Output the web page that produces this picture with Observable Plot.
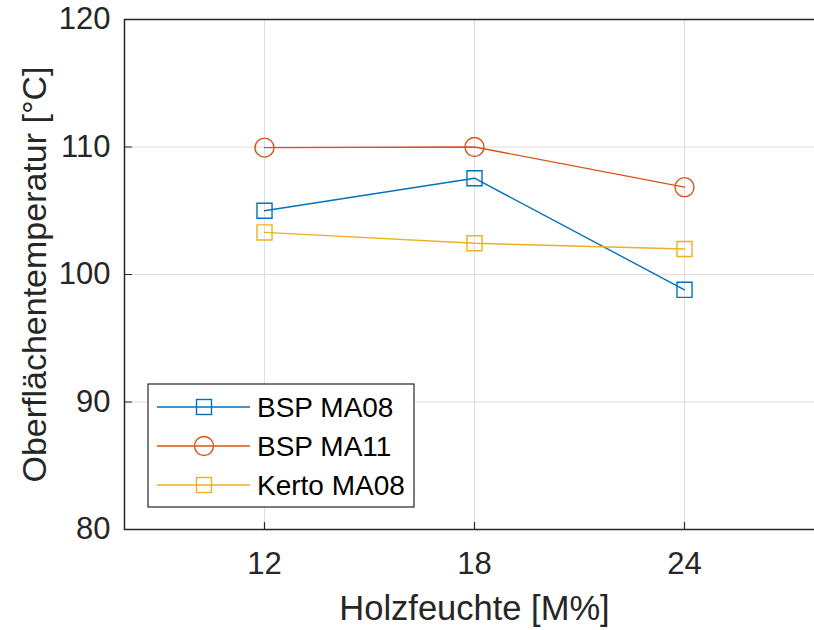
<!DOCTYPE html>
<html>
<head>
<meta charset="utf-8">
<script src="https://cdn.jsdelivr.net/npm/d3@7"></script>
<script src="https://cdn.jsdelivr.net/npm/@observablehq/plot@0.6"></script>
<style>
  html, body { margin: 0; padding: 0; background: #fff; }
  #chart svg { display: block; }
</style>
</head>
<body>
<div id="chart"></div>
<script>
// ---- data ----
const moisture = [12, 18, 24];
const seriesNames = ["BSP MA08", "BSP MA11", "Kerto MA08"];
const bspMA08 = [105.0, 107.55, 98.8];
const bspMA11 = [109.95, 110.0, 106.85];
const kertoMA08 = [103.3, 102.45, 102.0];
const seriesColors = ["#0072BD", "#D95319", "#EDB120"];
const seriesSymbols = ["square", "circle", "square"];
const xTicks = [12, 18, 24];
const yTicks = [80, 90, 100, 110, 120];
const xLabel = "Holzfeuchte [M%]";
const yLabel = "Oberflächentemperatur [°C]";

const valuesBySeries = [bspMA08, bspMA11, kertoMA08];
const rows = [];
seriesNames.forEach((s, i) => {
  moisture.forEach((m, j) => rows.push({series: s, x: m, y: valuesBySeries[i][j]}));
});

const axisColor = "#262626";
const font = "'Liberation Sans', Arial, Helvetica, sans-serif";
const tickShape = {draw(context, l) { context.moveTo(0, 0); context.lineTo(0, -l); }};

const marks = [
  Plot.gridX(xTicks, {stroke: "#dedede", strokeOpacity: 1, strokeWidth: 1}),
  Plot.gridY(yTicks, {stroke: "#dedede", strokeOpacity: 1, strokeWidth: 1}),
  Plot.frame({stroke: axisColor, strokeWidth: 1.5}),
  // inward ticks
  Plot.vector(xTicks, {x: d => d, y: () => 80, length: 7, rotate: 0, anchor: "start", shape: tickShape, stroke: axisColor, strokeWidth: 1.2}),
  Plot.vector(yTicks, {x: () => 8, y: d => d, length: 7, rotate: 90, anchor: "start", shape: tickShape, stroke: axisColor, strokeWidth: 1.2}),
  // tick labels
  Plot.axisX(xTicks, {tickSize: 0, tickPadding: 22, fontSize: 31, fill: axisColor, label: null}),
  Plot.axisY(yTicks, {tickSize: 0, tickPadding: 14, fontSize: 31, fill: axisColor, label: null}),
  // axis labels
  Plot.text([xLabel], {text: d => d, frameAnchor: "bottom", textAnchor: "middle", dy: 79, fontSize: 34.5, fill: axisColor, lineAnchor: "middle"}),
  Plot.text([yLabel], {text: d => d, frameAnchor: "left", textAnchor: "middle", dx: -89, rotate: -90, fontSize: 34, fill: axisColor, lineAnchor: "middle"}),
];

seriesNames.forEach((s, i) => {
  const data = rows.filter(r => r.series === s);
  marks.push(Plot.line(data, {x: "x", y: "y", stroke: seriesColors[i], strokeWidth: 1.4}));
  marks.push(Plot.dot(data, {x: "x", y: "y", stroke: seriesColors[i], fill: "white", fillOpacity: 0,
    symbol: seriesSymbols[i], r: seriesSymbols[i] === "circle" ? 9.5 : 8.5, strokeWidth: 1.4}));
});

const plot = Plot.plot({
  width: 814,
  height: 630,
  marginLeft: 124,
  marginRight: -10,
  marginTop: 19,
  marginBottom: 101,
  style: {fontFamily: font, background: "white", overflow: "hidden"},
  x: {domain: [8, 28], axis: null},
  y: {domain: [80, 120], axis: null},
  marks
});

document.getElementById("chart").appendChild(plot);

// ---- legend (drawn into the svg) ----
const svg = d3.select(plot);
const lg = svg.append("g").attr("font-family", font).attr("text-anchor", "start");
const lx = 148, ly = 384, lw = 266, lh = 123;
lg.append("rect").attr("x", lx).attr("y", ly).attr("width", lw).attr("height", lh)
  .style("fill", "white").style("stroke", axisColor).style("stroke-width", 1.2);
const rowY = [407, 446, 485];
seriesNames.forEach((s, i) => {
  const g = lg.append("g");
  g.append("line").attr("x1", 157).attr("x2", 250).attr("y1", rowY[i]).attr("y2", rowY[i])
    .style("stroke", seriesColors[i]).style("stroke-width", 1.4);
  if (seriesSymbols[i] === "circle") {
    g.append("circle").attr("cx", 204).attr("cy", rowY[i]).attr("r", 9.5)
      .style("fill", "none").style("stroke", seriesColors[i]).style("stroke-width", 1.4);
  } else {
    g.append("rect").attr("x", 204 - 7.5).attr("y", rowY[i] - 7.5).attr("width", 15).attr("height", 15)
      .style("fill", "none").style("stroke", seriesColors[i]).style("stroke-width", 1.4);
  }
  g.append("text").attr("x", 257).attr("y", rowY[i]).attr("dy", "0.35em")
    .attr("text-anchor", "start").style("font-size", "28px").style("fill", "#000").text(s);
});
</script>
</body>
</html>
